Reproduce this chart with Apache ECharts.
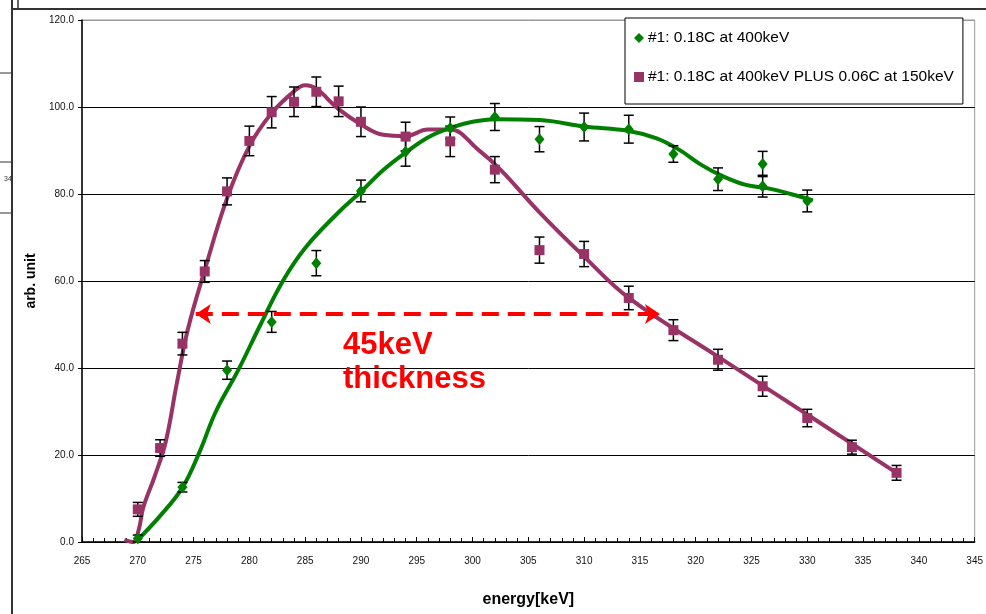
<!DOCTYPE html>
<html style="height: 100%">
<head>
    <meta charset="utf-8">
    <title>energy scan</title>
    <script src="https://cdn.jsdelivr.net/npm/echarts@6/dist/echarts.min.js"></script>
</head>
<body style="height: 100%; margin: 0; background: #fff">
<div id="container" style="width: 986px; height: 614px"></div>

<script type="text/javascript">
    var xMag = [270, 272, 274, 276, 278, 280, 282, 284, 286, 288, 290, 294, 298, 302, 306, 310, 314, 318, 322, 326, 330, 334, 338];
    var yMag = [7.5, 21.6, 45.6, 62.2, 80.6, 92.2, 98.8, 101.2, 103.5, 101.3, 96.6, 93.2, 92.1, 85.6, 67.1, 66.2, 56.1, 48.7, 41.9, 35.8, 28.5, 21.8, 15.9];
    var eMag = [1.6, 1.9, 2.6, 2.5, 3.1, 3.4, 3.6, 3.4, 3.4, 3.5, 3.4, 3.3, 3.5, 3.0, 3.0, 2.9, 2.7, 2.4, 2.4, 2.3, 2.0, 1.6, 1.7];

    var xGrn = [270, 274, 278, 282, 286, 290, 294, 298, 302, 306, 310, 314, 318, 322, 326, 326, 330];
    var yGrn = [0.8, 12.6, 39.5, 50.6, 64.1, 80.7, 89.7, 95.2, 97.7, 92.6, 95.4, 94.9, 89.2, 83.4, 86.9, 81.8, 78.4];
    var eGrn = [0.8, 1.1, 2.1, 2.4, 2.9, 2.5, 3.3, 2.5, 3.1, 2.9, 3.2, 3.2, 1.9, 2.6, 2.9, 2.5, 2.5];

    // hand drawn guide curves
    var curveMagX = [268.8, 269.6, 270.1, 270.5, 271.5, 272.5, 273.5, 274.5, 276, 278, 280, 282, 284, 285, 286, 288, 290, 292, 294, 296, 298, 300.5, 302.5, 306, 310, 314, 322, 330, 338];
    var curveMagY = [0.5, 0, 3, 8, 15, 23, 36.5, 49, 62.5, 79, 91, 98.6, 103.6, 105, 104.2, 99.5, 96, 93.6, 93.3, 94.8, 94.8, 90.2, 85.6, 75.8, 65.6, 56.1, 42.6, 29.3, 15.9];
    var curveGrnX = [270, 272, 274, 275.5, 277, 279, 281, 283, 285, 288, 290, 292, 294, 296, 298, 300, 302, 306, 310, 314, 316.5, 318.5, 320.5, 322.5, 324.5, 326.5, 328.5, 330.5];
    var curveGrnY = [0.5, 6, 12.5, 20.5, 30, 39.5, 50, 60, 67.6, 75.8, 80.5, 85.5, 89.5, 93, 95.2, 96.6, 97.2, 97, 95.5, 94.5, 92.8, 90.2, 86.7, 84, 82.1, 81.3, 80, 78.5];

    var yTicks = [0, 20, 40, 60, 80, 100, 120];
    var arrowY = 52.4;
    var arrowFrom = 275.2;
    var arrowTo = 316.8;

    var MAG = '#993366';
    var GRN = '#008000';
    var FONT = 'Liberation Sans';

    function zip(xs, ys) {
        return xs.map(function (x, i) { return [x, ys[i]]; });
    }
    function bars(xs, ys, es) {
        return xs.map(function (x, i) { return [x, ys[i] - es[i], ys[i] + es[i]]; });
    }

    function renderBar(params, api) {
        var x = api.value(0);
        var lo = api.coord([x, api.value(1)]);
        var hi = api.coord([x, api.value(2)]);
        var w = 5;
        var st = { stroke: '#000', lineWidth: 1.5 };
        return {
            type: 'group',
            children: [
                { type: 'line', shape: { x1: lo[0], y1: lo[1], x2: hi[0], y2: hi[1] }, style: st },
                { type: 'line', shape: { x1: hi[0] - w, y1: hi[1], x2: hi[0] + w, y2: hi[1] }, style: st },
                { type: 'line', shape: { x1: lo[0] - w, y1: lo[1], x2: lo[0] + w, y2: lo[1] }, style: st }
            ]
        };
    }

    var dom = document.getElementById("container");
    var myChart = echarts.init(dom, null, { renderer: 'canvas' });

    var splitColors = yTicks.map(function (v, i) { return i === yTicks.length - 1 ? '#999' : '#000'; });

    var option = {
        backgroundColor: '#fff',
        animation: false,
        textStyle: { fontFamily: FONT },
        grid: {
            left: 82, top: 20, width: 896, height: 522,
            show: true, borderColor: '#999', borderWidth: 1, backgroundColor: '#fff'
        },
        legend: {
            orient: 'vertical',
            left: 625, top: 18,
            padding: [12, 9, 19, 9],
            itemGap: 23,
            itemWidth: 10, itemHeight: 10,
            backgroundColor: '#fff',
            borderColor: '#000', borderWidth: 1,
            textStyle: { fontFamily: FONT, fontSize: 15.5, color: '#000', padding: [0, 0, 0, -1] },
            data: [
                { name: '#1: 0.18C at 400keV', icon: 'diamond' },
                { name: '#1: 0.18C at 400keV PLUS 0.06C at 150keV', icon: 'rect' }
            ]
        },
        xAxis: {
            type: 'value', min: 265, max: 345, interval: 5,
            name: 'energy[keV]', nameLocation: 'middle', nameGap: 50,
            nameTextStyle: { fontFamily: FONT, fontWeight: 'bold', fontSize: 16, color: '#000' },
            axisLine: { lineStyle: { color: '#000', width: 1.5 } },
            axisTick: { inside: true, length: 5, lineStyle: { color: '#000' } },
            minorTick: { show: true, splitNumber: 5, length: 4, lineStyle: { color: '#000' } },
            splitLine: { show: false },
            axisLabel: { fontSize: 10, color: '#111', margin: 14 }
        },
        yAxis: {
            type: 'value', min: 0, max: 120, interval: 20,
            name: 'arb. unit', nameLocation: 'middle', nameGap: 34,
            nameTextStyle: { fontFamily: FONT, fontWeight: 'bold', fontSize: 14, color: '#000' },
            axisLine: { show: true, lineStyle: { color: '#000', width: 1.5 } },
            axisTick: { show: true, length: 4, lineStyle: { color: '#000' } },
            splitLine: { lineStyle: { color: splitColors, width: 1 } },
            axisLabel: { fontSize: 10, color: '#111', margin: 8, formatter: function (v) { return v.toFixed(1); } }
        },
        series: [
            {
                name: 'curveMag', type: 'line', data: zip(curveMagX, curveMagY),
                showSymbol: false, smooth: 0.4, z: 2, silent: true,
                lineStyle: { color: MAG, width: 4 },
                markLine: {
                    silent: true,
                    symbol: ['arrow', 'arrow'],
                    symbolSize: [15, 15],
                    label: { show: false },
                    lineStyle: { color: '#ff0000', width: 4, type: [17, 9] },
                    data: [[{ coord: [arrowFrom, arrowY] }, { coord: [arrowTo, arrowY] }]]
                }
            },
            {
                name: 'curveGrn', type: 'line', data: zip(curveGrnX, curveGrnY),
                showSymbol: false, smooth: 0.4, z: 2, silent: true,
                lineStyle: { color: GRN, width: 4 }
            },
            {
                name: 'barsGrn', type: 'custom', renderItem: renderBar, z: 3,
                encode: { x: 0, y: [1, 2] }, data: bars(xGrn, yGrn, eGrn)
            },
            {
                name: 'barsMag', type: 'custom', renderItem: renderBar, z: 3,
                encode: { x: 0, y: [1, 2] }, data: bars(xMag, yMag, eMag)
            },
            {
                name: '#1: 0.18C at 400keV', type: 'scatter', data: zip(xGrn, yGrn),
                symbol: 'diamond', symbolSize: [10, 12], z: 4,
                itemStyle: { color: GRN, opacity: 1 }
            },
            {
                name: '#1: 0.18C at 400keV PLUS 0.06C at 150keV', type: 'scatter', data: zip(xMag, yMag),
                symbol: 'rect', symbolSize: 10, z: 4,
                itemStyle: { color: MAG, opacity: 1 }
            }
        ],
        graphic: [
            { type: 'text', left: 343, top: 328, z: 10,
              style: { text: '45keV\nthickness', font: 'bold 31px ' + FONT, fill: '#ff0000', lineHeight: 34 } },
            // bits of the surrounding sheet frame
            { type: 'line', shape: { x1: 12, y1: 9, x2: 986, y2: 9 }, style: { stroke: '#333', lineWidth: 2 } },
            { type: 'line', shape: { x1: 12, y1: 0, x2: 12, y2: 614 }, style: { stroke: '#333', lineWidth: 2 } },
            { type: 'line', shape: { x1: 18, y1: 0, x2: 18, y2: 9 }, style: { stroke: '#333', lineWidth: 1.5 } },
            { type: 'line', shape: { x1: 0, y1: 73, x2: 11, y2: 73 }, style: { stroke: '#333', lineWidth: 1 } },
            { type: 'line', shape: { x1: 0, y1: 162, x2: 11, y2: 162 }, style: { stroke: '#333', lineWidth: 1 } },
            { type: 'line', shape: { x1: 0, y1: 213, x2: 11, y2: 213 }, style: { stroke: '#333', lineWidth: 1 } },
            { type: 'text', left: 4, top: 176, style: { text: '34', font: '7px ' + FONT, fill: '#333' } }
        ]
    };

    myChart.setOption(option, true);
</script>
</body>
</html>
